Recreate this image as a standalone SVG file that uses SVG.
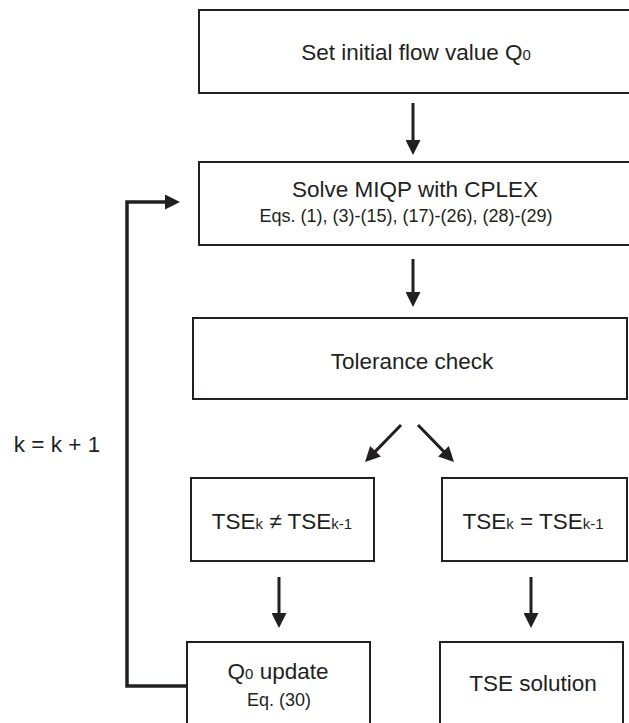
<svg xmlns="http://www.w3.org/2000/svg" width="629" height="723" viewBox="0 0 629 723">
  <style>
    .box { fill: #ffffff; stroke: #231f20; stroke-width: 2; }
    .lbl { font-family: "Liberation Sans", Arial, sans-serif; font-size: 22.5px; fill: #231f20; text-anchor: middle; }
    .sm { font-family: "Liberation Sans", Arial, sans-serif; font-size: 18px; fill: #231f20; text-anchor: middle; }
    .sub { font-size: 15px; }
    .conn { fill: none; stroke: #231f20; stroke-width: 3; }
    .loop { fill: none; stroke: #231f20; stroke-width: 3.5; }
  </style>
  <defs>
    <marker id="ah" viewBox="0 0 10 10" refX="2" refY="5" markerWidth="15" markerHeight="15" markerUnits="userSpaceOnUse" orient="auto">
      <path d="M0,0 L10,5 L0,10 z" fill="#231f20"/>
    </marker>
  </defs>
  <rect width="629" height="723" fill="#ffffff"/>

  <g id="node-init">
    <rect class="box" x="199" y="10" width="445" height="83"/>
    <text class="lbl" x="416" y="60">Set initial flow value Q<tspan class="sub">0</tspan></text>
  </g>

  <g id="node-solve">
    <rect class="box" x="199" y="162" width="445" height="83"/>
    <text class="lbl" x="415" y="197">Solve MIQP with CPLEX</text>
    <text class="sm" x="406" y="222">Eqs. (1), (3)-(15), (17)-(26), (28)-(29)</text>
  </g>

  <g id="node-tolerance">
    <rect class="box" x="193" y="318" width="434" height="81"/>
    <text class="lbl" x="412" y="369">Tolerance check</text>
  </g>

  <g id="node-neq">
    <rect class="box" x="191" y="478" width="183" height="83"/>
    <text class="lbl" x="282" y="529">TSE<tspan class="sub">k</tspan> ≠ TSE<tspan class="sub">k-1</tspan></text>
  </g>

  <g id="node-eq">
    <rect class="box" x="442" y="478" width="185" height="83"/>
    <text class="lbl" x="533" y="529">TSE<tspan class="sub">k</tspan> = TSE<tspan class="sub">k-1</tspan></text>
  </g>

  <g id="node-update">
    <rect class="box" x="187" y="642" width="183" height="95"/>
    <text class="lbl" x="278" y="679">Q<tspan class="sub">0</tspan> update</text>
    <text class="sm" x="279" y="706">Eq. (30)</text>
  </g>

  <g id="node-solution">
    <rect class="box" x="440" y="642" width="183" height="95"/>
    <text class="lbl" x="533" y="691">TSE solution</text>
  </g>

  <g id="label-k">
    <text class="lbl" x="57" y="452">k = k + 1</text>
  </g>

  <g id="connectors">
    <line class="conn" x1="413" y1="103" x2="413" y2="143" marker-end="url(#ah)"/>
    <line class="conn" x1="413" y1="259" x2="413" y2="295" marker-end="url(#ah)"/>
    <line class="conn" x1="401" y1="425" x2="373.4" y2="453.4" marker-end="url(#ah)"/>
    <line class="conn" x1="418" y1="425" x2="445.6" y2="453.4" marker-end="url(#ah)"/>
    <line class="conn" x1="279" y1="577" x2="279" y2="616" marker-end="url(#ah)"/>
    <line class="conn" x1="531" y1="577" x2="531" y2="616" marker-end="url(#ah)"/>
    <polyline class="loop" points="187,686 127,686 127,202 168,202" marker-end="url(#ah)"/>
  </g>
</svg>
